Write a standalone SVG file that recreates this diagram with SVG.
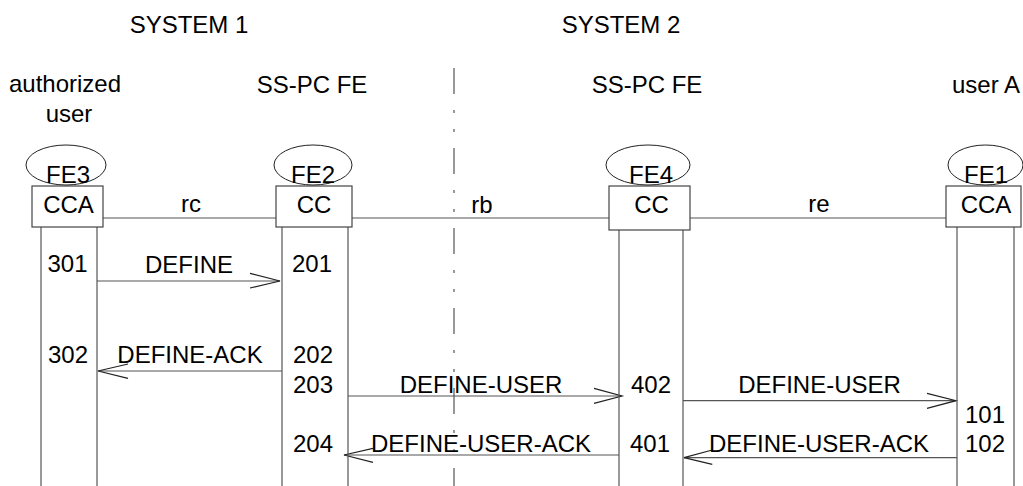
<svg xmlns="http://www.w3.org/2000/svg" width="1023" height="486" viewBox="0 0 1023 486">
<style>
text{font-family:"Liberation Sans",Arial,sans-serif;font-size:24px;fill:#000;text-anchor:middle}
.ln{stroke:#555;stroke-width:1.2;fill:none}
.el{stroke:#222;stroke-width:1;fill:none}
.bx{stroke:#444;stroke-width:1.2;fill:#fff}
.ah{stroke:#222;stroke-width:1.2;fill:none}
.dd{stroke:#555;stroke-width:1.2;stroke-dasharray:26 16 3 16 3 16;fill:none}
</style>
<rect width="1023" height="486" fill="#fff"/>
<g id="labels">
<text x="189" y="33">SYSTEM 1</text>
<text x="621" y="33">SYSTEM 2</text>
<text x="65" y="92">authorized</text>
<text x="69" y="122">user</text>
<text x="312" y="93">SS-PC FE</text>
<text x="647" y="93">SS-PC FE</text>
<text x="986" y="93">user A</text>
</g>
<g id="divider"><line class="dd" x1="454" y1="68" x2="454" y2="486"/></g>
<g id="connectors">
<line class="ln" x1="103" y1="218" x2="276" y2="218"/>
<line class="ln" x1="352" y1="218" x2="609" y2="218"/>
<line class="ln" x1="690" y1="218" x2="946" y2="218"/>
<text x="191" y="212">rc</text>
<text x="482" y="213">rb</text>
<text x="819" y="212">re</text>
<line class="ln" x1="97" y1="281" x2="280" y2="281"/>
<polyline class="ah" points="250,273.3 280,281 250,288"/>
<text x="189" y="273">DEFINE</text>
<line class="ln" x1="282" y1="371" x2="98" y2="371"/>
<polyline class="ah" points="128,364 98,371 128,378.3"/>
<text x="190" y="363">DEFINE-ACK</text>
<line class="ln" x1="348" y1="396" x2="622" y2="396"/>
<polyline class="ah" points="594,388.3 622,396 594,403.3"/>
<text x="481" y="393">DEFINE-USER</text>
<line class="ln" x1="683" y1="400.7" x2="956" y2="400.7"/>
<polyline class="ah" points="927,393.3 956,400.7 927,408.3"/>
<text x="819.5" y="393">DEFINE-USER</text>
<line class="ln" x1="619" y1="455" x2="344" y2="455"/>
<polyline class="ah" points="373,448.3 344,455 373,462.3"/>
<text x="481" y="452">DEFINE-USER-ACK</text>
<line class="ln" x1="957" y1="457.7" x2="684" y2="457.7"/>
<polyline class="ah" points="712.3,450 684,457.7 712.3,464.3"/>
<text x="819" y="452">DEFINE-USER-ACK</text>
</g>
<g id="fe3">
<line class="ln" x1="41" y1="227" x2="41" y2="486"/>
<line class="ln" x1="97" y1="227" x2="97" y2="486"/>
<rect class="bx" x="32" y="186" width="71" height="41"/>
<ellipse class="el" cx="66" cy="165" rx="40" ry="20"/>
<text x="68" y="183">FE3</text>
<text x="68.5" y="213">CCA</text>
<text x="67.5" y="272">301</text>
<text x="68" y="363">302</text>
</g>
<g id="fe2">
<line class="ln" x1="282" y1="227" x2="282" y2="486"/>
<line class="ln" x1="348" y1="227" x2="348" y2="486"/>
<rect class="bx" x="276" y="186" width="76" height="41"/>
<ellipse class="el" cx="313" cy="165" rx="39" ry="20"/>
<text x="313" y="183">FE2</text>
<text x="314" y="213">CC</text>
<text x="312" y="272">201</text>
<text x="313" y="363">202</text>
<text x="313" y="393">203</text>
<text x="313" y="452">204</text>
</g>
<g id="fe4">
<line class="ln" x1="619" y1="230" x2="619" y2="486"/>
<line class="ln" x1="683" y1="230" x2="683" y2="486"/>
<rect class="bx" x="609" y="186" width="81" height="44"/>
<ellipse class="el" cx="648" cy="165" rx="42" ry="20"/>
<text x="651" y="183">FE4</text>
<text x="651.5" y="213">CC</text>
<text x="651" y="393">402</text>
<text x="650" y="452">401</text>
</g>
<g id="fe1">
<line class="ln" x1="957" y1="227" x2="957" y2="486"/>
<line class="ln" x1="1014" y1="227" x2="1014" y2="486"/>
<rect class="bx" x="946" y="186" width="75" height="41"/>
<ellipse class="el" cx="985.5" cy="165" rx="37.5" ry="20"/>
<text x="986" y="183">FE1</text>
<text x="986" y="213">CCA</text>
<text x="985" y="423">101</text>
<text x="985" y="452">102</text>
</g>
</svg>
